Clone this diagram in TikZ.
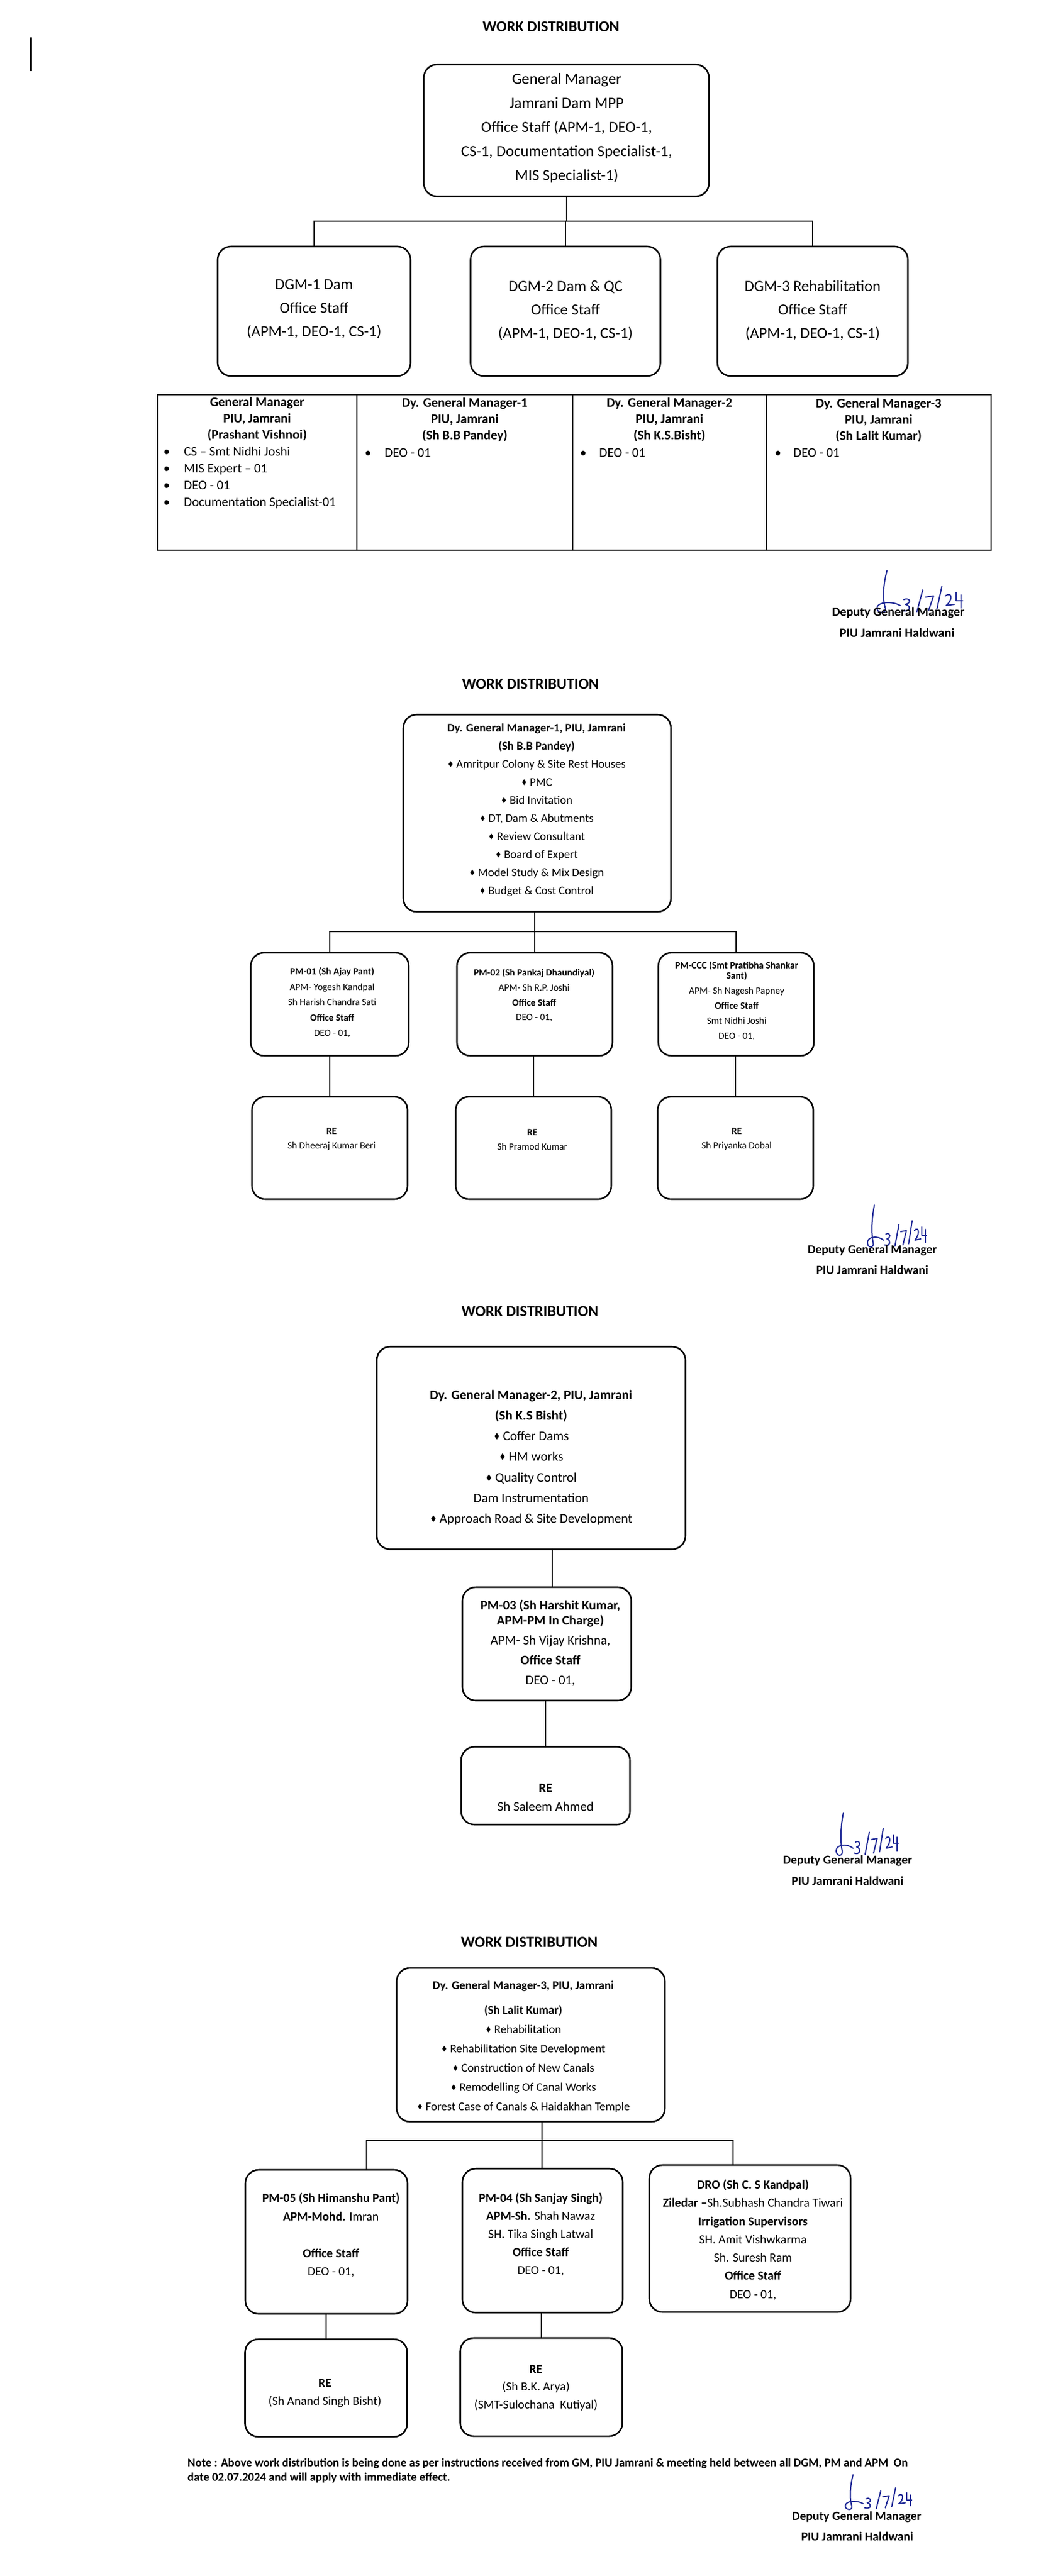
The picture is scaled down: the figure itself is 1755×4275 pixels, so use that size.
\documentclass[tikz,border=0pt]{standalone}
\usepackage{fontspec}
\setmainfont{Carlito}
\newfontfamily\symf{DejaVu Sans}
\definecolor{sigblue}{RGB}{30,40,150}
\newcommand\dm{{\symf\raisebox{0.05em}{\scalebox{0.62}[0.7]{♦}}}\hspace{4pt}}
\newcommand\signature[4]{%
\begin{scope}[shift={(#1,#2)}, xscale=#3, yscale=#4]
\draw[sig] (14,0) .. controls (10,20) and (8,45) .. (12,62) .. controls (14,72) and (2,72) .. (2,62) .. controls (2,52) and (20,50) .. (30,58);
\draw[sig] (34,48) .. controls (42,44) and (44,54) .. (36,56) .. controls (44,58) and (42,70) .. (32,66);
\draw[sig] (50,68) -- (57,32);
\draw[sig] (60,44) -- (70,42) -- (64,66);
\draw[sig] (74,64) -- (80,26);
\draw[sig] (84,42) .. controls (92,34) and (94,48) .. (85,58) -- (95,56);
\draw[sig] (97,36) -- (97,50) -- (105,50);
\draw[sig] (103,40) -- (103,62);
\end{scope}}
\begin{document}
\begin{tikzpicture}[x=1pt,y=-1pt,
  box/.style={draw, line width=2.6pt, rounded corners=22pt, inner sep=0pt},
  txt/.style={inner sep=0pt, align=center},
  conn/.style={line width=1.4pt},
  sig/.style={draw=sigblue, line width=2pt, line cap=round, line join=round},
  title/.style={txt, font=\bfseries\fontsize{25.5}{30}\selectfont},
  signame/.style={txt, font=\bfseries\fontsize{20.5}{25}\selectfont}]
\useasboundingbox (0,0) rectangle (1755,4275);
\fill[white] (0,0) rectangle (1755,4275);
\draw[line width=3pt] (51,62) -- (51,118);

% ================= Section 1 =================
\node[title] (t1) at (914,44) {WORK DISTRIBUTION};
\node[box, minimum width=473pt, minimum height=219pt] (gm) at (939.5,216.5) {};
\node[txt, font=\fontsize{25.7}{40}\selectfont] (gmt) at (940,213) {General Manager\\Jamrani Dam MPP\\Office Staff (APM-1, DEO-1,\\CS-1, Documentation Specialist-1,\\MIS Specialist-1)};
\node[box, minimum width=320pt, minimum height=215pt] (dgm1) at (521,516.5) {};
\node[box, minimum width=315pt, minimum height=215pt] (dgm2) at (938,516.5) {};
\node[box, minimum width=316pt, minimum height=215pt] (dgm3) at (1348,516.5) {};
\node[txt, font=\fontsize{25.7}{39}\selectfont] (dgm1t) at (521,513) {DGM-1 Dam\\Office Staff\\(APM-1, DEO-1, CS-1)};
\node[txt, font=\fontsize{25.7}{39}\selectfont] (dgm2t) at (938,515) {DGM-2 Dam \& QC\\Office Staff\\(APM-1, DEO-1, CS-1)};
\node[txt, font=\fontsize{25.7}{39}\selectfont] (dgm3t) at (1348,515) {DGM-3 Rehabilitation\\Office Staff\\(APM-1, DEO-1, CS-1)};
\coordinate (bus1) at (938,367);
\draw[conn] (gm.south) -- (gm.south |- bus1);
\draw[conn] (dgm1.north) |- (bus1) -| (dgm3.north);
\draw[conn] (bus1) -- (dgm2.north);

% table
\draw[line width=2pt] (261,655) rectangle (1644,913);
\draw[line width=2pt] (592,655) -- (592,913);
\draw[line width=2pt] (950,655) -- (950,913);
\draw[line width=2pt] (1271,655) -- (1271,913);
\node[txt, font=\bfseries\fontsize{21.7}{27}\selectfont] (th1) at (426.5,696) {General Manager\\PIU, Jamrani\\(Prashant Vishnoi)};
\node[txt, font=\bfseries\fontsize{21.7}{27}\selectfont] (th2) at (771,697) {Dy. General Manager-1\\PIU, Jamrani\\(Sh B.B Pandey)};
\node[txt, font=\bfseries\fontsize{21.7}{27}\selectfont] (th3) at (1110.5,697) {Dy. General Manager-2\\PIU, Jamrani\\(Sh K.S.Bisht)};
\node[txt, font=\bfseries\fontsize{21.7}{27}\selectfont] (th4) at (1457.5,698) {Dy. General Manager-3\\PIU, Jamrani\\(Sh Lalit Kumar)};
\node[txt, align=left, anchor=west, font=\fontsize{21.7}{28}\selectfont] (tb1) at (271,793) {\makebox[34pt][l]{\textbullet}CS – Smt Nidhi Joshi\\\makebox[34pt][l]{\textbullet}MIS Expert – 01\\\makebox[34pt][l]{\textbullet}DEO - 01\\\makebox[34pt][l]{\textbullet}Documentation Specialist-01};
\node[txt, align=left, anchor=west, font=\fontsize{21.7}{28}\selectfont] (tb2) at (605,752) {\makebox[33pt][l]{\textbullet}DEO - 01};
\node[txt, align=left, anchor=west, font=\fontsize{21.7}{28}\selectfont] (tb3) at (962,752) {\makebox[32pt][l]{\textbullet}DEO - 01};
\node[txt, align=left, anchor=west, font=\fontsize{21.7}{28}\selectfont] (tb4) at (1285,752) {\makebox[31pt][l]{\textbullet}DEO - 01};

\signature{1452}{947}{1.38}{1.0}
\node[signame, font=\bfseries\fontsize{21}{25}\selectfont] (s1a) at (1490,1017) {Deputy General Manager};
\node[signame, font=\bfseries\fontsize{21}{25}\selectfont] (s1b) at (1488,1050) {PIU Jamrani Haldwani};

% ================= Section 2 =================
\node[title] (t2) at (880,1135) {WORK DISTRIBUTION};
\node[box, minimum width=444pt, minimum height=327pt] (dgmA) at (891,1349.5) {};
\node[txt, font=\fontsize{19.4}{30}\selectfont] (dgmAt) at (890,1344) {{\bfseries Dy. General Manager-1, PIU, Jamrani}\\{\bfseries (Sh B.B Pandey)}\\\dm Amritpur Colony \& Site Rest Houses\\\dm PMC\\\dm Bid Invitation\\\dm DT, Dam \& Abutments\\\dm Review Consultant\\\dm Board of Expert\\\dm Model Study \& Mix Design\\\dm Budget \& Cost Control};
\node[box, minimum width=262pt, minimum height=171pt] (pm01) at (547,1666.5) {};
\node[box, minimum width=258pt, minimum height=171pt] (pm02) at (887,1666.5) {};
\node[box, minimum width=258pt, minimum height=171pt] (pmccc) at (1221,1666.5) {};
\node[txt, font=\fontsize{16}{25.5}\selectfont] (pm01t) at (551,1664) {{\bfseries PM-01 (Sh Ajay Pant)}\\APM- Yogesh Kandpal\\Sh Harish Chandra Sati\\{\bfseries Office Staff}\\DEO - 01,};
\node[txt, font=\fontsize{16}{24.7}\selectfont] (pm02t) at (886,1652) {{\bfseries PM-02 (Sh Pankaj Dhaundiyal)}\\APM- Sh R.P. Joshi\\{\bfseries Office Staff}\\DEO - 01,};
\node[txt, font=\fontsize{16}{25}\selectfont] (pmccct) at (1222,1661.5) {{\bfseries PM-CCC (Smt Pratibha Shankar}\\[-8pt]{\bfseries Sant)}\\APM- Sh Nagesh Papney\\{\bfseries Office Staff}\\Smt Nidhi Joshi\\DEO - 01,};
\coordinate (bus2) at (887,1546);
\draw[conn] (dgmA.south -| pm02.north) -- (pm02.north);
\draw[conn] (pm01.north) |- (bus2) -| (pmccc.north);
\node[box, minimum width=258pt, minimum height=170pt] (re1) at (547,1905) {};
\node[box, minimum width=258pt, minimum height=170pt] (re2) at (885,1905) {};
\node[box, minimum width=258pt, minimum height=170pt] (re3) at (1220,1905) {};
\draw[conn] (pm01.south -| re1.north) -- (re1.north);
\draw[conn] (pm02.south -| re2.north) -- (re2.north);
\draw[conn] (pmccc.south -| re3.north) -- (re3.north);
\node[txt, font=\fontsize{16}{24}\selectfont] (re1t) at (550,1891) {{\bfseries RE}\\Sh Dheeraj Kumar Beri};
\node[txt, font=\fontsize{16}{24}\selectfont] (re2t) at (883,1891) {{\bfseries RE}\\Sh Pramod Kumar};
\node[txt, font=\fontsize{16}{24}\selectfont] (re3t) at (1222,1891) {{\bfseries RE}\\Sh Priyanka Dobal};
\signature{1437}{2000}{0.95}{1.0}
\node[signame] (s2a) at (1447,2075) {Deputy General Manager};
\node[signame] (s2b) at (1447,2107) {PIU Jamrani Haldwani};

% ================= Section 3 =================
\node[title] (t3) at (879,2176) {WORK DISTRIBUTION};
\node[box, minimum width=512pt, minimum height=336pt] (dgmB) at (881,2403) {};
\node[txt, font=\fontsize{22}{34.3}\selectfont] (dgmBt) at (881,2419) {{\bfseries Dy. General Manager-2, PIU, Jamrani}\\{\bfseries (Sh K.S Bisht)}\\\dm Coffer Dams\\\dm HM works\\\dm Quality Control\\Dam Instrumentation\\\dm Approach Road \& Site Development};
\node[box, minimum width=280pt, minimum height=188pt] (pm03) at (907,2728) {};
\node[txt, font=\fontsize{21.8}{33}\selectfont] (pm03t) at (913,2726.5) {{\bfseries PM-03 (Sh Harshit Kumar,}\\[-8pt]{\bfseries APM-PM In Charge)}\\APM- Sh Vijay Krishna,\\{\bfseries Office Staff}\\DEO - 01,};
\node[box, minimum width=280pt, minimum height=129pt] (re3b) at (905,2963.5) {};
\node[txt, font=\fontsize{21.8}{31}\selectfont] (re3bt) at (905,2982.5) {{\bfseries RE}\\Sh Saleem Ahmed};
\coordinate (c3a) at ([xshift=9pt]pm03.north);
\draw[conn] (c3a |- dgmB.south) -- (c3a);
\draw[conn] (re3b.north |- pm03.south) -- (re3b.north);
\signature{1385}{3008}{1.0}{1.02}
\node[signame] (s3a) at (1406,3088) {Deputy General Manager};
\node[signame] (s3b) at (1406,3121) {PIU Jamrani Haldwani};

% ================= Section 4 =================
\node[title] (t4) at (878,3223) {WORK DISTRIBUTION};
\node[box, minimum width=445pt, minimum height=255pt] (dgmC) at (880.5,3393.5) {};
\node[txt, font=\fontsize{19.7}{32}\selectfont] (dgmCt) at (868,3396.5) {{\bfseries Dy. General Manager-3, PIU, Jamrani}\\[9pt]{\bfseries (Sh Lalit Kumar)}\\\dm Rehabilitation\\\dm Rehabilitation Site Development\\\dm Construction of New Canals\\\dm Remodelling Of Canal Works\\\dm Forest Case of Canals \& Haidakhan Temple};
\node[box, minimum width=269pt, minimum height=239pt] (pm05) at (541.5,3720.5) {};
\node[box, minimum width=266pt, minimum height=239pt] (pm04) at (900,3718.5) {};
\node[box, minimum width=334pt, minimum height=244pt] (dro) at (1244,3715) {};
\node[txt, font=\fontsize{20.5}{30.5}\selectfont] (pm05t) at (549,3709.5) {{\bfseries PM-05 (Sh Himanshu Pant)}\\{\bfseries APM-Mohd.} Imran\\\mbox{}\\{\bfseries Office Staff}\\DEO - 01,};
\node[txt, font=\fontsize{20.5}{30}\selectfont] (pm04t) at (897,3708) {{\bfseries PM-04 (Sh Sanjay Singh)}\\{\bfseries APM-Sh.} Shah Nawaz\\SH. Tika Singh Latwal\\{\bfseries Office Staff}\\DEO - 01,};
\node[txt, font=\fontsize{20.5}{30.3}\selectfont] (drot) at (1249,3717) {{\bfseries DRO (Sh C. S Kandpal)}\\{\bfseries Ziledar –}Sh.Subhash Chandra Tiwari\\{\bfseries Irrigation Supervisors}\\SH. Amit Vishwkarma\\Sh. Suresh Ram\\{\bfseries Office Staff}\\DEO - 01,};
\coordinate (bus4) at (899,3552);
\coordinate (b4l) at ([xshift=66pt]pm05.north);
\coordinate (b4r) at ([xshift=-28pt]dro.north);
\draw[conn] (bus4 |- dgmC.south) -- (bus4 |- pm04.north);
\draw[conn] (b4l) |- (bus4) -| (b4r);
\node[box, minimum width=269pt, minimum height=162pt] (re4a) at (541,3963) {};
\node[box, minimum width=269pt, minimum height=163pt] (re4b) at (898,3961.5) {};
\draw[conn] (pm05.south -| re4a.north) -- (re4a.north);
\draw[conn] (pm04.south -| re4b.north) -- (re4b.north);
\node[txt, font=\fontsize{20.5}{30}\selectfont] (re4at) at (539,3972) {{\bfseries RE}\\(Sh Anand Singh Bisht)};
\node[txt, font=\fontsize{20.5}{29.5}\selectfont] (re4bt) at (889,3962.5) {{\bfseries RE}\\(Sh B.K. Arya)\\(SMT-Sulochana\ \ Kutiyal)};
\node[txt, align=left, anchor=west, font=\bfseries\fontsize{19.5}{24}\selectfont] (note) at (311,4100) {Note : Above work distribution is being done as per instructions received from GM, PIU Jamrani \& meeting held between all DGM, PM and APM\ \ On\\date 02.07.2024 and will apply with immediate effect.};
\signature{1400}{4107}{1.07}{0.83}
\node[signame] (s4a) at (1421,4177) {Deputy General Manager};
\node[signame] (s4b) at (1422,4209) {PIU Jamrani Haldwani};
\end{tikzpicture}
\end{document}
